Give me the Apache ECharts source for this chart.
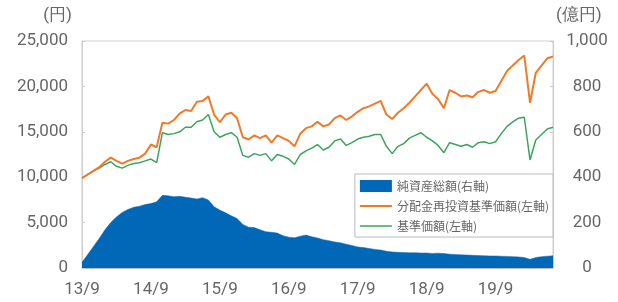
<!DOCTYPE html>
<html>
<head>
<meta charset="utf-8">
<script src="https://cdn.jsdelivr.net/npm/echarts@6/dist/echarts.min.js"></script>
<style>
  html, body { margin: 0; padding: 0; background: #fff; }
  #chart { width: 618px; height: 302px; }
</style>
</head>
<body>
<div id="chart"></div>
<script>
// 月次データ 2013/9 ～ 2020/7
const startYear = 2013
const startMonth = 9
const monthCount = 83

// 純資産総額(億円, 右軸)
const netAssets = [
  25, 60, 95, 130, 168, 200, 225, 245, 258, 268, 272, 280,
  284, 292, 320, 318, 314, 316, 312, 308, 304, 310, 300, 270,
  255, 243, 230, 218, 192, 180, 178, 168, 160, 157, 154, 142,
  136, 133, 140, 145, 138, 132, 125, 120, 115, 111, 105, 99,
  93, 90, 86, 82, 79, 74, 71, 69, 68, 67, 67, 66,
  66, 64, 65, 64, 61, 59, 58, 57, 56, 55, 54, 53,
  53, 52, 51, 50, 49, 46, 38, 46, 50, 52, 54
]

// 分配金再投資基準価額(円, 左軸)
const reinvestedNav = [
  9900, 10300, 10700, 11100, 11700, 12150, 11800, 11500, 11800, 12000, 12150, 12600,
  13600, 13300, 16000, 15900, 16300, 17000, 17400, 17300, 18300, 18400, 18900, 16900,
  16050, 16900, 17100, 16500, 14400, 14150, 14600, 14300, 14600, 13800, 14600, 14300,
  14000, 13400, 14800, 15400, 15600, 16100, 15600, 15800, 16500, 16800, 16300, 16700,
  17200, 17600, 17800, 18100, 18400, 16900, 16400, 17100, 17600, 18200, 18900, 19600,
  20300, 19200, 18600, 17600, 19600, 19300, 18900, 19000, 18800, 19400, 19600, 19300,
  19500, 20600, 21700, 22300, 22900, 23400, 18200, 21500, 22300, 23100, 23300
]

// 基準価額(円, 左軸)
const nav = [
  9900, 10300, 10700, 11000, 11400, 11700, 11200, 11000, 11300, 11500, 11600, 11800,
  12000, 11600, 14900, 14700, 14800, 15000, 15500, 15500, 16100, 16300, 16900, 15000,
  14400, 14700, 14900, 14400, 12400, 12200, 12600, 12400, 12600, 11800, 12500, 12300,
  12000, 11400, 12500, 12900, 13200, 13600, 13000, 13300, 14000, 14200, 13500, 13800,
  14200, 14400, 14500, 14700, 14700, 13400, 12600, 13400, 13700, 14300, 14600, 14900,
  14400, 14000, 13500, 12700, 13800, 13600, 13400, 13600, 13300, 13800, 13900, 13700,
  13900, 14800, 15600, 16100, 16500, 16600, 11900, 14100, 14700, 15300, 15500
]

const seriesNames = ['純資産総額(右軸)', '分配金再投資基準価額(左軸)', '基準価額(左軸)']
const blue = '#0068b7'
const orange = '#ef7a2a'
const green = '#3ba55d'

// 'YY/M' のカテゴリを作る
const months = []
for (let i = 0; i < monthCount; i++) {
  const m = startMonth - 1 + i
  const y = startYear + Math.floor(m / 12)
  months.push(String(y).slice(2) + '/' + (m % 12 + 1))
}

const labelFont = { color: '#666', fontSize: 17, fontFamily: 'Roboto' }

function comma(v) {
  return String(v).replace(/\B(?=(\d{3})+(?!\d))/g, ',')
}

const chart = echarts.init(document.getElementById('chart'), null, { renderer: 'canvas' })

chart.setOption({
  animation: false,
  grid: {
    left: 82,
    right: 65,
    top: 41,
    bottom: 34,
    show: true,
    borderColor: '#d0d0d0',
    borderWidth: 1
  },
  legend: {
    data: [
      { name: seriesNames[0], icon: 'rect' },
      { name: seriesNames[1], icon: 'path://M0,0H32V2H0Z' },
      { name: seriesNames[2], icon: 'path://M0,0H32V1.4H0Z' }
    ],
    orient: 'vertical',
    right: 65,
    top: 174,
    itemWidth: 32,
    itemHeight: 12,
    itemGap: 8,
    padding: [6, 4, 5, 5],
    backgroundColor: '#fff',
    borderColor: '#bbb',
    borderWidth: 1,
    selectedMode: false,
    textStyle: { color: '#666', fontSize: 12, fontFamily: 'Noto Sans CJK JP' }
  },
  xAxis: {
    type: 'category',
    data: months,
    boundaryGap: false,
    axisLine: { lineStyle: { color: '#bbb' } },
    axisTick: {
      inside: true,
      length: 4,
      interval: (i) => i % 12 === 0,
      lineStyle: { color: '#ccc' }
    },
    axisLabel: {
      ...labelFont,
      margin: 13,
      interval: (i) => i % 12 === 0
    }
  },
  yAxis: [
    {
      type: 'value',
      min: 0,
      max: 25000,
      interval: 5000,
      name: '(円)',
      nameLocation: 'end',
      nameGap: 17,
      nameTextStyle: { ...labelFont, align: 'right', padding: [0, 10, 0, 0] },
      axisLine: { show: true, lineStyle: { color: '#ccc' } },
      axisTick: { show: true, inside: true, length: 3, lineStyle: { color: '#ccc' } },
      splitLine: { show: false },
      axisLabel: { ...labelFont, margin: 14, formatter: comma }
    },
    {
      type: 'value',
      min: 0,
      max: 1000,
      interval: 200,
      name: '(億円)',
      nameLocation: 'end',
      nameGap: 17,
      nameTextStyle: { ...labelFont, align: 'left', padding: [0, 0, 0, 3] },
      axisLine: { show: true, lineStyle: { color: '#ccc' } },
      axisTick: { show: true, inside: true, length: 3, lineStyle: { color: '#ccc' } },
      splitLine: { show: false },
      axisLabel: { ...labelFont, margin: 34, align: 'center', formatter: comma }
    }
  ],
  series: [
    {
      name: seriesNames[0],
      type: 'line',
      yAxisIndex: 1,
      data: netAssets,
      symbol: 'none',
      itemStyle: { color: blue },
      lineStyle: { width: 0.5, color: blue },
      areaStyle: { color: blue, opacity: 1 },
      z: 1
    },
    {
      name: seriesNames[2],
      type: 'line',
      yAxisIndex: 0,
      data: nav,
      symbol: 'none',
      itemStyle: { color: green },
      lineStyle: { width: 1.5, color: green },
      z: 2
    },
    {
      name: seriesNames[1],
      type: 'line',
      yAxisIndex: 0,
      data: reinvestedNav,
      symbol: 'none',
      itemStyle: { color: orange },
      lineStyle: { width: 2, color: orange },
      z: 3
    }
  ]
})
</script>
</body>
</html>
